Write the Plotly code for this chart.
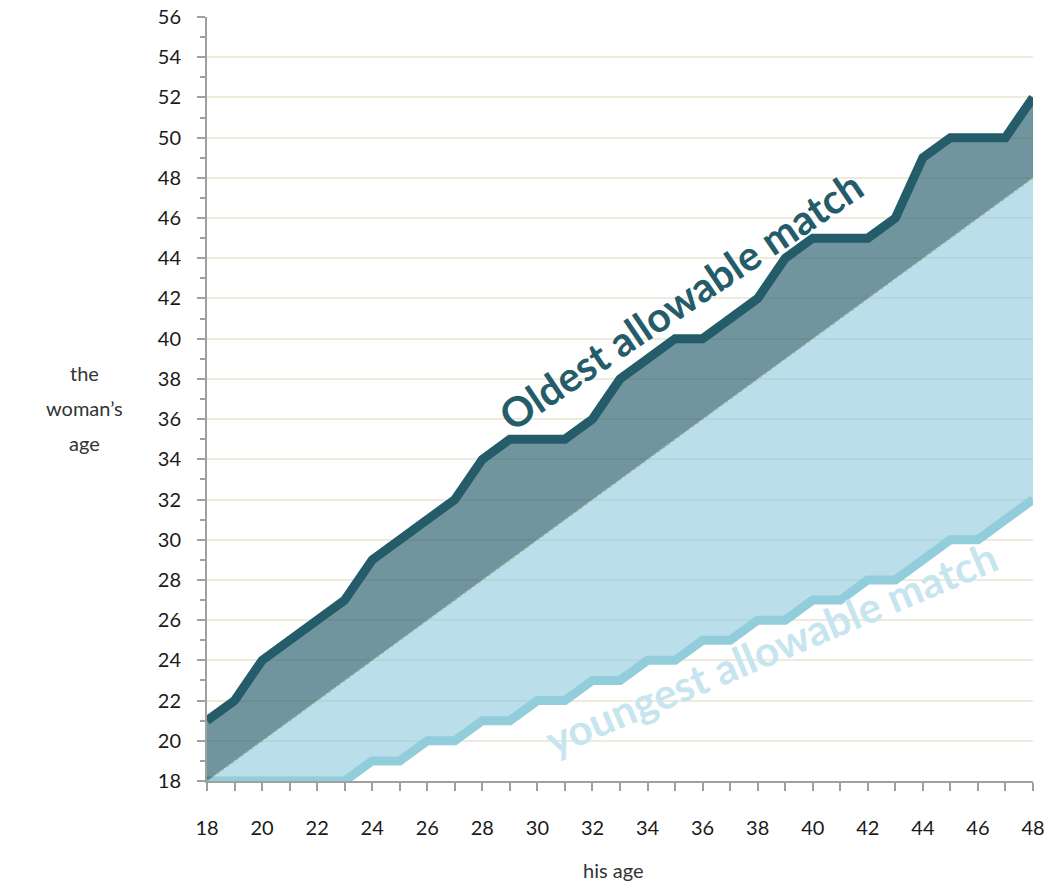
import plotly.graph_objects as go

his_age = [18, 19, 20, 21, 22, 23, 24, 25, 26, 27, 28, 29, 30, 31, 32, 33,
           34, 35, 36, 37, 38, 39, 40, 41, 42, 43, 44, 45, 46, 47, 48]
oldest = [21, 22, 24, 25, 26, 27, 29, 30, 31, 32, 34, 35, 35, 35, 36, 38,
          39, 40, 40, 41, 42, 44, 45, 45, 45, 46, 49, 50, 50, 50, 52]
youngest = [18, 18, 18, 18, 18, 18, 19, 19, 20, 20, 21, 21, 22, 22, 23, 23,
            24, 24, 25, 25, 26, 26, 27, 27, 28, 28, 29, 30, 30, 31, 32]
same_age = [18, 19, 20, 21, 22, 23, 24, 25, 26, 27, 28, 29, 30, 31, 32, 33,
            34, 35, 36, 37, 38, 39, 40, 41, 42, 43, 44, 45, 46, 47, 48]

FONT = "Lato"
TITLE_COLOR = "#333333"

fig = go.Figure()
fig.add_trace(go.Scatter(x=his_age, y=youngest, mode="lines",
                         line=dict(color="#92cddc", width=9), hoverinfo="skip",
                         showlegend=False))
fig.add_trace(go.Scatter(x=his_age, y=same_age, mode="lines", fill="tonexty",
                         fillcolor="rgba(140,200,220,0.6)",
                         line=dict(color="rgba(150,170,140,0.8)", width=1.5, dash="dot"),
                         hoverinfo="skip", showlegend=False))
fig.add_trace(go.Scatter(x=his_age, y=oldest, mode="lines", fill="tonexty",
                         fillcolor="rgba(36,92,106,0.65)",
                         line=dict(color="#245c6a", width=9), hoverinfo="skip",
                         showlegend=False))

fig.update_layout(
    width=1050, height=888,
    margin=dict(l=207, r=17, t=17, b=107),
    paper_bgcolor="white", plot_bgcolor="white",
    font=dict(family=FONT, size=20, color="#1a1a1a"),
    xaxis=dict(range=[18, 48], dtick=2, tick0=18, showgrid=False, zeroline=False,
               automargin=False, ticklabeloverflow="allow",
               showline=True, linecolor="#a0a0a0", linewidth=2,
               ticks="outside", ticklen=8, tickwidth=1.5, tickcolor="#a0a0a0",
               ticklabelstandoff=20,
               minor=dict(dtick=1, ticks="outside", ticklen=8, tickwidth=1.5,
                          tickcolor="#a0a0a0", showgrid=False)),
    yaxis=dict(range=[18, 56], dtick=2, tick0=18, showgrid=True, gridcolor="#eeeadc",
               gridwidth=1.5, zeroline=False, automargin=False, ticklabeloverflow="allow",
               showline=True, linecolor="#a0a0a0", linewidth=2,
               ticks="outside", ticklen=8, tickwidth=1.5, tickcolor="#a0a0a0",
               ticklabelstandoff=12,
               minor=dict(dtick=1, ticks="outside", ticklen=5, tickwidth=1.5,
                          tickcolor="#a0a0a0", showgrid=False)),
    annotations=[
        dict(text="the", xref="paper", yref="y", x=-0.1477, y=38.3,
             showarrow=False, xanchor="center", yanchor="middle",
             font=dict(size=20, color=TITLE_COLOR)),
        dict(text="woman\u2019s", xref="paper", yref="y", x=-0.1477, y=36.56,
             showarrow=False, xanchor="center", yanchor="middle",
             font=dict(size=20, color=TITLE_COLOR)),
        dict(text="age", xref="paper", yref="y", x=-0.1477, y=34.82,
             showarrow=False, xanchor="center", yanchor="middle",
             font=dict(size=20, color=TITLE_COLOR)),
        dict(text="his age", xref="paper", yref="paper", x=0.492, y=-0.1165,
             showarrow=False, xanchor="center", yanchor="middle",
             font=dict(size=20, color=TITLE_COLOR)),
        dict(text="<b>Oldest allowable match</b>", xref="x", yref="y", x=35.2, y=41.9,
             showarrow=False, textangle=-34,
             font=dict(size=41, color="#245c6a")),
        dict(text="<b>youngest allowable match</b>", xref="x", yref="y", x=38.5, y=24.6,
             showarrow=False, textangle=-22.8,
             font=dict(size=42, color="#c7e5ee")),
    ],
)

fig.write_html("out.html",
               config={"displayModeBar": False},
               post_script="document.body.style.margin='0';document.body.style.overflow='hidden';")
